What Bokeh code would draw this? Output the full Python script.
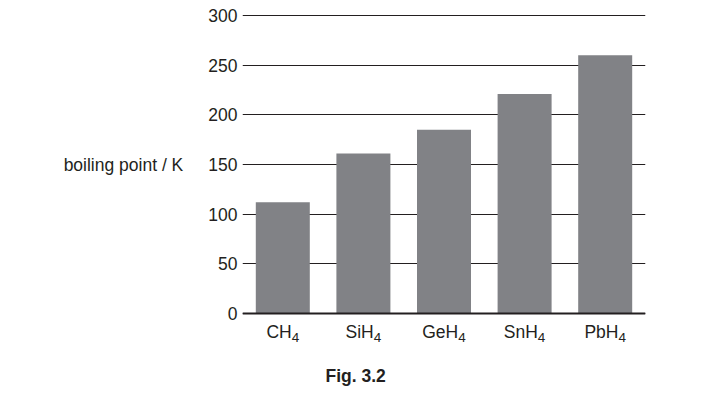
from bokeh.plotting import figure
from bokeh.models import Range1d, FixedTicker, Span, LinearAxis, Title
from bokeh.embed import file_html
from bokeh.resources import INLINE

# ---- data ----
compounds = ["CH4", "SiH4", "GeH4", "SnH4", "PbH4"]
label_main = ["CH", "SiH", "GeH", "SnH", "PbH"]
label_sub = ["4", "4", "4", "4", "4"]
boiling_points = [112, 161, 185, 221, 260]
y_ticks = [0, 50, 100, 150, 200, 250, 300]

FONT = "Liberation Sans"
TXT = "#231f20"
BAR = "#818286"
FRAME_W = 403

n = len(compounds)
slot = [i + 0.5 for i in range(n)]  # centre of each category slot

p = figure(width=720, height=405, x_range=Range1d(0, n),
           y_range=Range1d(-2, 302), output_backend="svg", toolbar_location=None,
           x_axis_location=None,
           min_border_left=242, min_border_right=75, min_border_top=13,
           min_border_bottom=82)
p.outline_line_color = None
p.background_fill_color = "white"
p.border_fill_color = "white"

p.vbar(x=slot, top=boiling_points, width=0.67, color=BAR, line_color=None)

# y axis
p.yaxis.ticker = FixedTicker(ticks=y_ticks)
p.yaxis.axis_line_color = None
p.yaxis.major_tick_line_color = None
p.yaxis.minor_tick_line_color = None
p.yaxis.major_tick_out = 0
p.yaxis.major_tick_in = 0
p.yaxis.major_label_standoff = 5
p.yaxis.major_label_text_font = FONT
p.yaxis.major_label_text_font_size = "17.5px"
p.yaxis.major_label_text_color = TXT
p.yaxis.axis_label = "boiling point / K"
p.yaxis.axis_label_orientation = "horizontal"
p.yaxis.axis_label_text_font = FONT
p.yaxis.axis_label_text_font_style = "normal"
p.yaxis.axis_label_text_font_size = "17.5px"
p.yaxis.axis_label_text_color = TXT
p.yaxis.axis_label_standoff = 22

p.xgrid.grid_line_color = None
p.ygrid.ticker = FixedTicker(ticks=y_ticks)
p.ygrid.grid_line_color = TXT
p.ygrid.grid_line_width = 1

p.add_layout(Span(location=0, dimension="width", line_color=TXT, line_width=2.2))

# category labels with subscripts: two stacked axes
W = {"C": 722, "H": 722, "S": 667, "i": 222, "G": 778, "e": 556, "n": 556,
     "P": 667, "b": 556, "4": 556}
fs_main, fs_sub = 17.5, 13.5
ppu = FRAME_W / n
main_ticks, sub_ticks = [], []
for c, m, s in zip(slot, label_main, label_sub):
    mw = sum(W[ch] for ch in m) * fs_main / 1000
    sw = sum(W[ch] for ch in s) * fs_sub / 1000
    left = -(mw + sw) / 2
    main_ticks.append(round(c + (left + mw / 2) / ppu, 4))
    sub_ticks.append(round(c + (left + mw + sw / 2) / ppu, 4))


def label_axis(ticks, texts, size, standoff):
    ax = LinearAxis(ticker=FixedTicker(ticks=ticks, minor_ticks=[]),
                    major_label_overrides={t: s for t, s in zip(ticks, texts)})
    ax.axis_line_color = None
    ax.major_tick_line_color = None
    ax.minor_tick_line_color = None
    ax.major_tick_out = 0
    ax.major_tick_in = 0
    ax.major_label_standoff = standoff
    ax.major_label_text_font = FONT
    ax.major_label_text_font_size = f"{size}px"
    ax.major_label_text_color = TXT
    return ax


p.add_layout(label_axis(main_ticks, label_main, fs_main, 6), "below")
p.add_layout(label_axis(sub_ticks, label_sub, fs_sub, -12), "below")

p.add_layout(Title(text="Fig. 3.2", align="left", offset=83, standoff=39,
                   text_font=FONT, text_font_style="bold", text_font_size="17.5px",
                   text_color=TXT), "below")

open("out.html", "w").write(file_html(p, INLINE))
